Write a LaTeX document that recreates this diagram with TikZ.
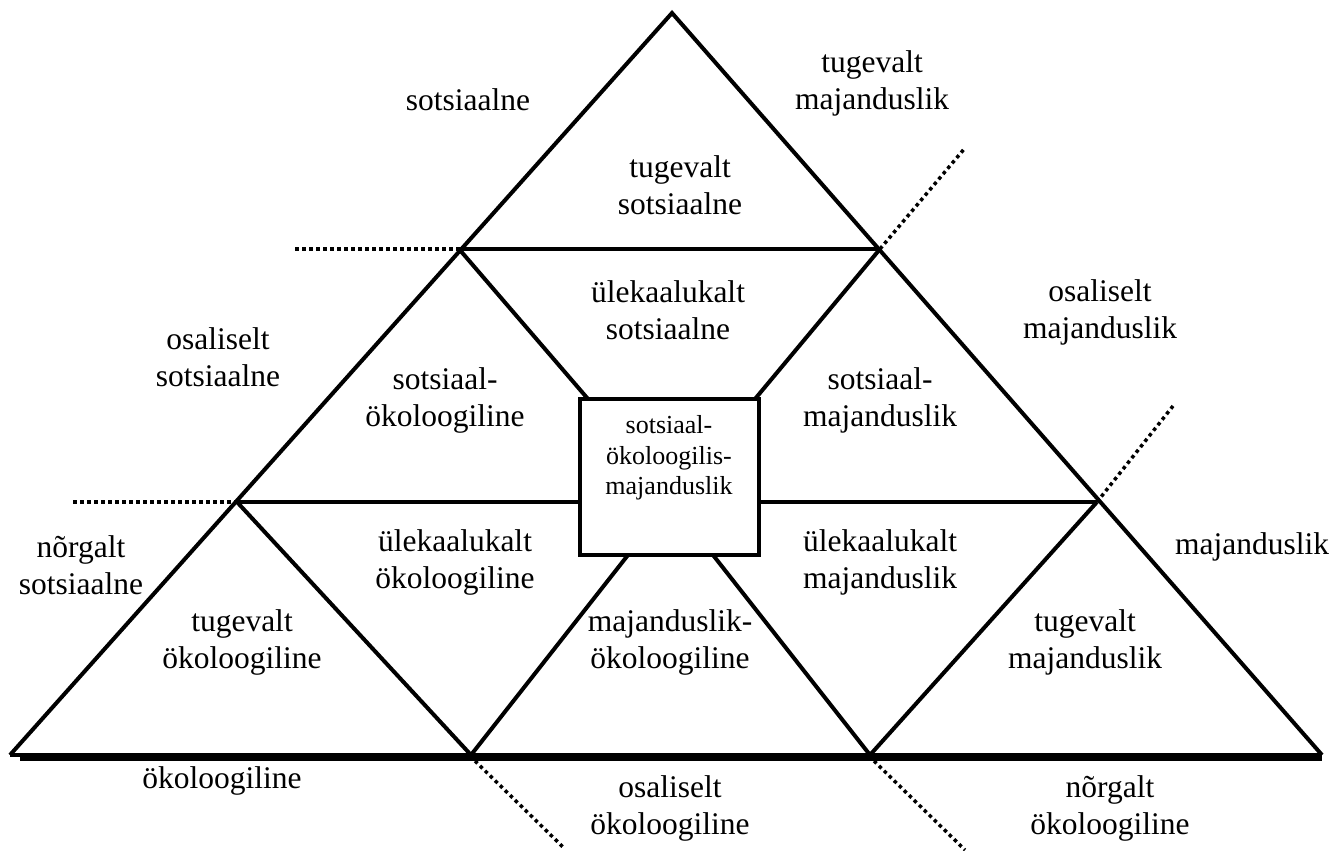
\documentclass[tikz,border=0pt]{standalone}
\usepackage{fontspec}
\setmainfont{Liberation Serif}
\begin{document}
\begin{tikzpicture}[x=1pt,y=1pt,
  edge/.style={line width=4pt, line join=miter},
  dotline/.style={line width=3.5pt, dash pattern=on 3.5pt off 3.5pt},
  lbl/.style={align=center, font=\fontsize{31.5}{37}\selectfont, inner sep=0pt},
  boxlbl/.style={align=center, font=\fontsize{26}{30.5}\selectfont, inner sep=0pt}]
\useasboundingbox (0,0) rectangle (1339,851);
% corners
\coordinate (A) at (10,96);
\coordinate (B) at (1322,96);
\coordinate (C) at (672,838);
\coordinate (L1) at (459,602);
\coordinate (R1) at (880,602);
\coordinate (L2) at (237,349);
\coordinate (R2) at (1097,349);
\coordinate (M1) at (471,96);
\coordinate (M2) at (870,96);
% centre box
\node[draw, line width=4pt, minimum width=179pt, minimum height=156pt, inner sep=0pt] (box) at (669.5,374) {};
\coordinate (btl) at (588,452);
\coordinate (btr) at (755,452);
\coordinate (bbl) at (628,296);
\coordinate (bbr) at (713,296);
% outer triangle
\draw[edge] (A) -- (C) -- (B);
\draw[edge] (A) -- (B);
\coordinate (S1) at (20,92);
\coordinate (S2) at (1322,92);
\draw[line width=4.5pt] (S1) -- (S2);
% inner lines
\draw[edge] (L1) -- (R1);
\draw[edge] (L2) -- (box.west |- L2);
\draw[edge] (box.east |- R2) -- (R2);
\draw[edge] (L1) -- (btl);
\draw[edge] (btr) -- (R1);
\draw[edge] (L2) -- (M1) -- (bbl);
\draw[edge] (bbr) -- (M2) -- (R2);
% dotted lines
\coordinate (D1) at (295,602);
\coordinate (D2) at (73,349);
\coordinate (D3) at (965,703);
\coordinate (D4) at (1173,445);
\coordinate (D5) at (564,3);
\coordinate (D6) at (965,1);
\coordinate (M1b) at (475,90);
\coordinate (M2b) at (874,90);
\draw[dotline] (D1) -- (L1);
\draw[dotline] (D2) -- (L2);
\draw[dotline] (R1) -- (D3);
\draw[dotline] (R2) -- (D4);
\draw[dotline] (M1b) -- (D5);
\draw[dotline] (M2b) -- (D6);
% labels
\node[boxlbl] (tb) at (669,393) {sotsiaal-\\ökoloogilis-\\majanduslik};
\node[lbl] (t1) at (468,751) {sotsiaalne};
\node[lbl] (t2) at (872,768) {tugevalt\\majanduslik};
\node[lbl] (t3) at (680,666) {tugevalt\\sotsiaalne};
\node[lbl] (t4) at (668,541) {ülekaalukalt\\sotsiaalne};
\node[lbl] (t5) at (1100,539) {osaliselt\\majanduslik};
\node[lbl] (t6) at (218,494) {osaliselt\\sotsiaalne};
\node[lbl] (t7) at (445,451) {sotsiaal-\\ökoloogiline};
\node[lbl] (t8) at (880,451) {sotsiaal-\\majanduslik};
\node[lbl] (t9) at (81,286) {nõrgalt\\sotsiaalne};
\node[lbl] (t10) at (455,289) {ülekaalukalt\\ökoloogiline};
\node[lbl] (t11) at (880,289) {ülekaalukalt\\majanduslik};
\node[lbl] (t12) at (1252,304) {majanduslik};
\node[lbl] (t13) at (242,209) {tugevalt\\ökoloogiline};
\node[lbl] (t14) at (670,209) {majanduslik-\\ökoloogiline};
\node[lbl] (t15) at (1085,209) {tugevalt\\majanduslik};
\node[lbl] (t16) at (222,70) {ökoloogiline};
\node[lbl] (t17) at (670,43) {osaliselt\\ökoloogiline};
\node[lbl] (t18) at (1110,43) {nõrgalt\\ökoloogiline};
\end{tikzpicture}
\end{document}
